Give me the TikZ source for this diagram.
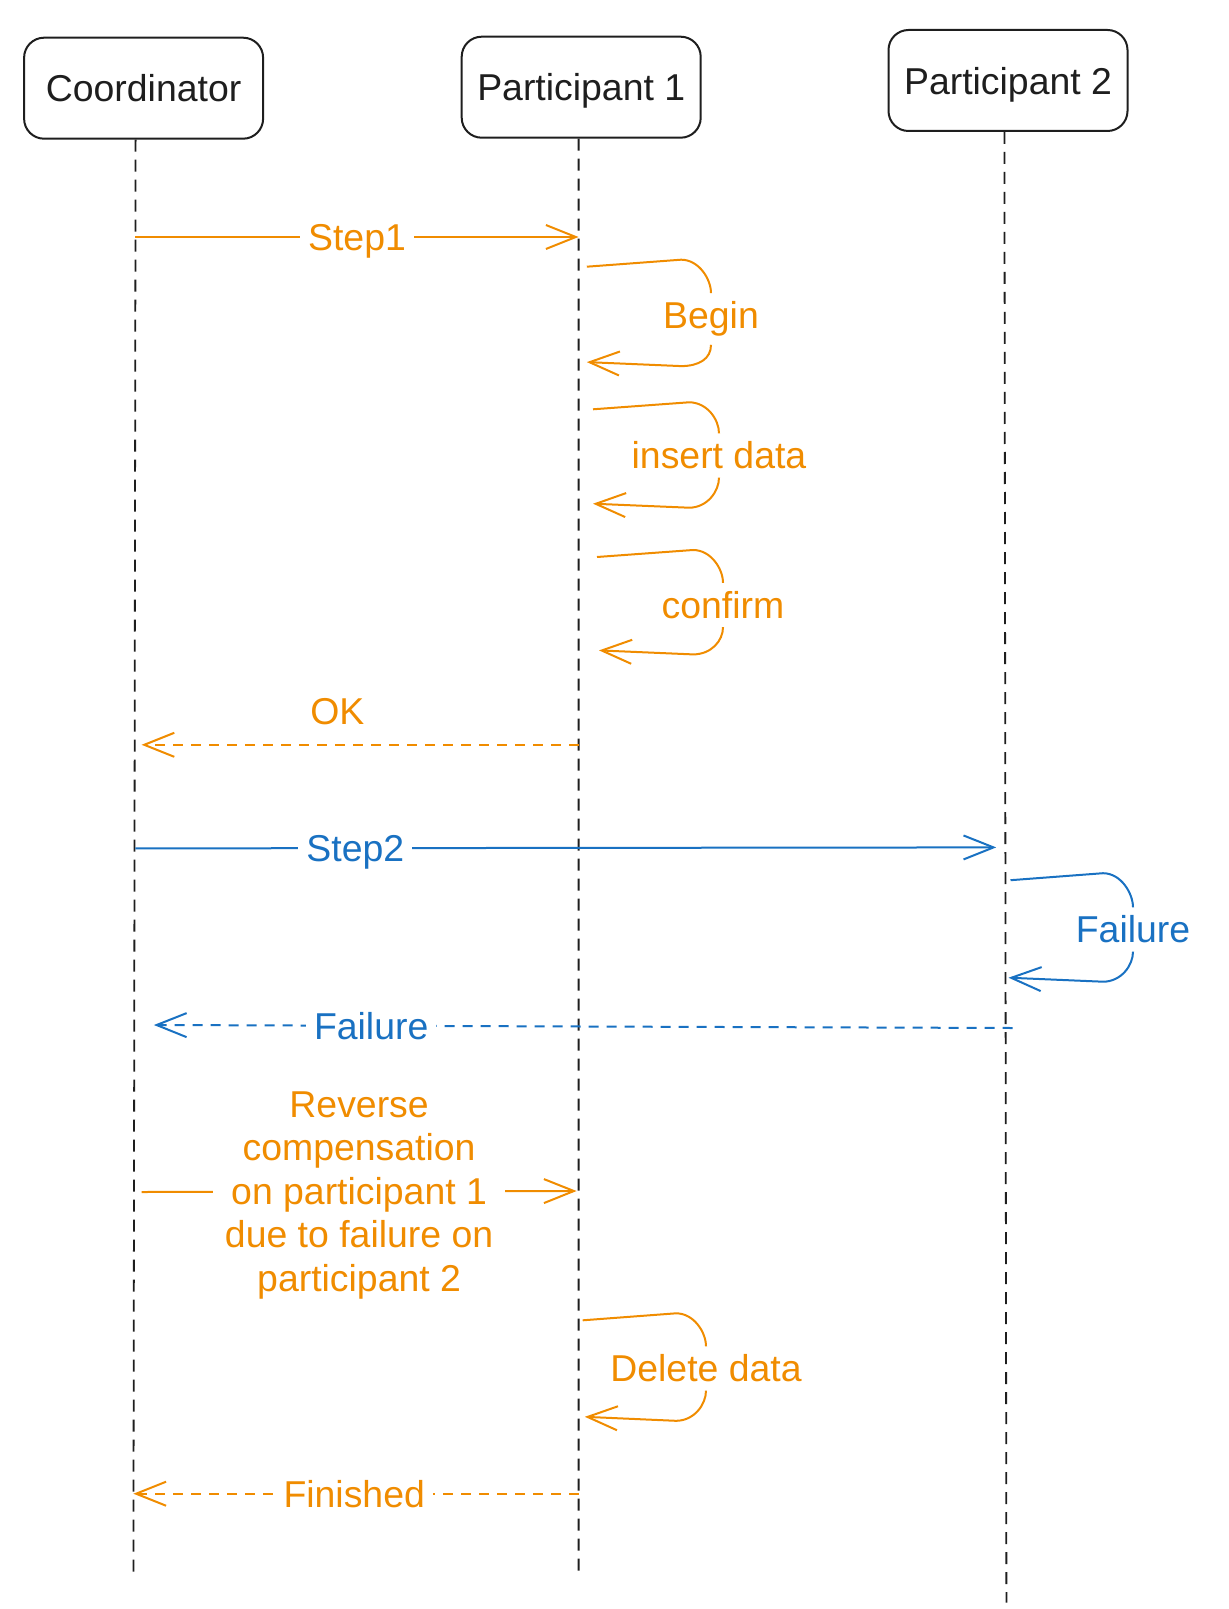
\documentclass[tikz,border=0pt]{standalone}
\usepackage{fontspec}
\setmainfont{Liberation Sans}
\usetikzlibrary{arrows.meta,calc}
\definecolor{ink}{HTML}{1E1E1E}
\definecolor{orng}{HTML}{F08C00}
\definecolor{blu}{HTML}{1971C2}
\begin{document}
\begin{tikzpicture}[x=0.5pt,y=-0.5pt,
  font=\fontsize{18.7}{21.7}\selectfont,
  actor/.style={draw=ink, line width=1pt, rounded corners=10pt, minimum width=119.5pt, minimum height=50.5pt, text=ink, inner sep=0pt, text depth=0pt},
  life/.style={draw=ink, line width=0.9pt, dash pattern=on 6pt off 4pt},
  barbtip/.style={-{Straight Barb[length=15pt,width=12pt,line width=1pt]}},
  oline/.style={line width=1pt, draw=orng},
  bline/.style={line width=1pt, draw=blu},
  omsg/.style={oline, barbtip},
  bmsg/.style={bline, barbtip},
  dsh/.style={dash pattern=on 5pt off 4pt},
  olab/.style={fill=white, text=orng, inner xsep=4pt, inner ysep=2pt, text depth=0pt},
  blab/.style={fill=white, text=blu, inner xsep=4pt, inner ysep=2pt, text depth=0pt},
  oloop/.style={text=orng, inner xsep=2pt, inner ysep=4pt},
  bloop/.style={text=blu, inner xsep=2pt, inner ysep=4pt},
]
\useasboundingbox (0,0) rectangle (1229,1609);

% actors
\node[actor] (C) at (143.6,88.2) {Coordinator};
\node[actor] (P1) at (581.2,87.2) {Participant 1};
\node[actor] (P2) at (1008,80.5) {Participant 2};

% lifelines
\coordinate (Cend) at (133.4,1574.8);
\coordinate (P1end) at (578.6,1576.8);
\coordinate (P2end) at (1006.4,1602.5);
\draw[life] ([xshift=-4pt]C.south) -- (Cend);
\draw[life] ([xshift=-1.3pt]P1.south) -- (P1end);
\draw[life] ([xshift=-1.8pt]P2.south) -- (P2end);

% Step1
\coordinate (s1a) at (135.4,237);
\coordinate (s1b) at (578.6,237);
\draw[omsg] (s1a) -- node[olab] (Lstep1) {Step1} (s1b);

% self loops
\newcommand{\selfloop}[5]{% #1 line style, #2 msg style, #3 start, #4 label node, #5 end
  \draw[#1] (#3) -- ($(#4.north |- #3)+(-30,-7)$) .. controls +(18,0) and +(0,-14) .. (#4.north);
  \draw[#2] (#4.south) .. controls +(0,14) and +(18,0) .. ($(#4.south |- #5)+(-30,4)$) -- (#5);
}

\coordinate (b1s) at (586.8,266.7);
\coordinate (b1e) at (586.8,362.1);
\node[oloop] (Lbegin) at (711,319) {Begin};
\selfloop{oline}{omsg}{b1s}{Lbegin}{b1e}

\coordinate (b2s) at (593,409.3);
\coordinate (b2e) at (593,503.7);
\node[oloop] (Linsert) at (719,455.5) {insert data};
\selfloop{oline}{omsg}{b2s}{Linsert}{b2e}

\coordinate (b3s) at (597,557);
\coordinate (b3e) at (599,650.4);
\node[oloop] (Lconfirm) at (723,605) {confirm};
\selfloop{oline}{omsg}{b3s}{Lconfirm}{b3e}

% OK
\coordinate (oka) at (578.6,744.8);
\coordinate (okb) at (141.6,744.8);
\draw[omsg,dsh] (oka) -- node[pos=0.552, above=9.6pt, text=orng, inner sep=0pt] (Lok) {OK} (okb);

% Step2
\coordinate (s2a) at (135.4,848.4);
\coordinate (s2b) at (996.2,847.4);
\draw[bmsg] (s2a) -- node[blab, pos=0.2555] (Lstep2) {Step2} (s2b);

% Failure self loop on participant 2
\coordinate (f1s) at (1010.5,880.2);
\coordinate (f1e) at (1008.5,977.7);
\node[bloop] (Lfail1) at (1133,929.5) {Failure};
\selfloop{bline}{bmsg}{f1s}{Lfail1}{f1e}

% Failure back to coordinator
\coordinate (f2a) at (1012.6,1028);
\coordinate (f2b) at (153.9,1025);
\draw[bmsg,dsh] (f2a) -- node[blab, pos=0.747] (Lfail2) {Failure} (f2b);

% Reverse compensation
\coordinate (rca) at (141.6,1192);
\coordinate (rcb) at (576.6,1191);
\draw[omsg] (rca) -- node[olab, align=center, inner xsep=6pt, pos=0.5] (Lrev) {Reverse\\compensation\\on participant 1\\due to failure on\\participant 2} (rcb);

% Delete data
\coordinate (d1s) at (582.7,1320.3);
\coordinate (d1e) at (584.8,1416.8);
\node[oloop] (Ldel) at (706,1368.5) {Delete data};
\selfloop{oline}{omsg}{d1s}{Ldel}{d1e}

% Finished
\coordinate (fna) at (578.6,1493.7);
\coordinate (fnb) at (133.4,1493.7);
\draw[omsg,dsh] (fna) -- node[olab, pos=0.504] (Lfin) {Finished} (fnb);
\end{tikzpicture}
\end{document}
